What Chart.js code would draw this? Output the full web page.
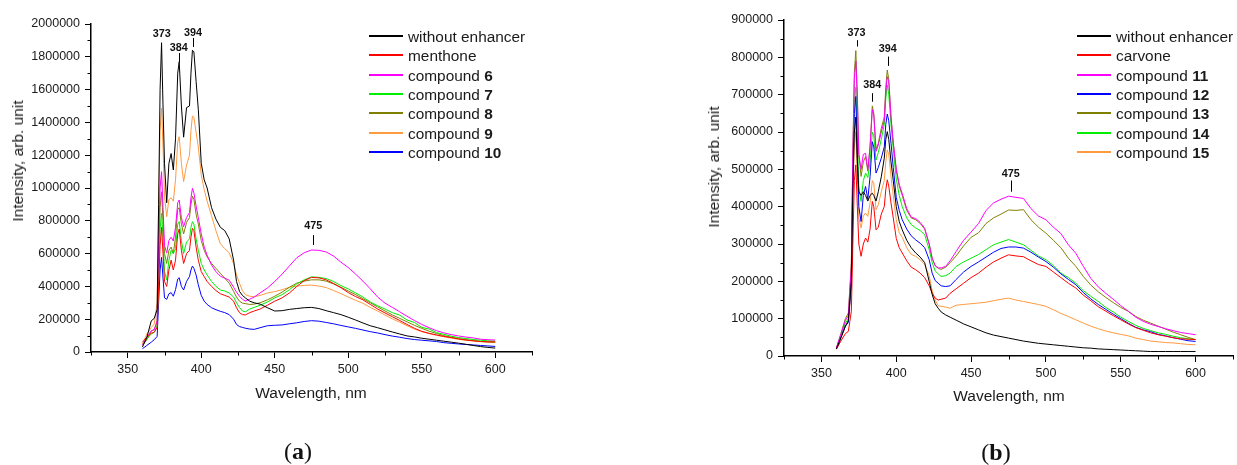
<!DOCTYPE html>
<html><head><meta charset="utf-8">
<script src="https://cdn.jsdelivr.net/npm/chart.js@4.4.0/dist/chart.umd.min.js"></script>
<style>
html,body{margin:0;padding:0;background:#fff;}
body{width:1237px;height:465px;overflow:hidden;position:relative;font-family:"Liberation Sans",Arial,sans-serif;color:#1a1a1a;}
canvas{position:absolute;top:0;}
.ax{position:absolute;font-size:15.5px;white-space:nowrap;transform:translate(-50%,-50%);}
.ay{position:absolute;font-size:15.5px;white-space:nowrap;transform:translate(-50%,-50%) rotate(-90deg);}
.lg{position:absolute;height:19px;line-height:19px;font-size:15.4px;white-space:pre;}
.lg .ln{position:absolute;left:0;top:8px;width:34px;height:2px;}
.lg .tx{position:absolute;left:39px;top:0;white-space:pre;}
.pl{position:absolute;font-family:"Liberation Serif","Times New Roman",serif;font-size:24px;transform:translate(-50%,-50%);white-space:nowrap;color:#111;}
</style></head><body>
<canvas id="ca" width="600" height="420" style="left:0px"></canvas>
<canvas id="cb" width="537" height="420" style="left:700px"></canvas>
<div class="ay" style="left:17.5px;top:161px">Intensity, arb. unit</div>
<div class="ax" style="left:311px;top:393px">Wavelength, nm</div>
<div class="ay" style="left:713.5px;top:167px">Intensity, arb. unit</div>
<div class="ax" style="left:1009px;top:396px">Wavelength, nm</div>
<div class="pl" style="left:298px;top:451px">(<b>a</b>)</div>
<div class="pl" style="left:996px;top:452px">(<b>b</b>)</div>
<div id="legA"></div><div id="legB"></div>
<script>
const WL = [360,363,366,368,370,371,372,373,374,375,
 376.5,378,379.5,381,382.5,384,385,386.5,388,390,
 392,393,394,395,396.5,398,400,402,404,407,
 410,413,416,419,422,424,426,428,430,433,
 436,440,445,450,455,460,465,470,475,480,
 485,490,495,500,505,510,515,520,525,530,
 535,540,545,550,555,560,565,570,575,580,
 585,590,595,600];

// ---- Panel (a) ----
const A_BLACK = [30000,90000,190000,205000,260000,900000,1600000,1886000,1500000,1150000,
 910000,1150000,1210000,1110000,1300000,1700000,1770000,1500000,1310000,1490000,
 1500000,1700000,1840000,1830000,1650000,1480000,1150000,1050000,1000000,880000,
 810000,760000,740000,690000,560000,430000,370000,345000,330000,310000,
 300000,292000,270000,250000,252000,260000,265000,270000,272000,265000,
 252000,240000,228000,212000,195000,177000,160000,148000,135000,122000,
 110000,98000,92000,84000,78000,72000,66000,60000,54000,47000,
 40000,33000,28000,24000];
const A_RED = [60000,90000,115000,120000,150000,400000,650000,760000,600000,430000,
 400000,500000,560000,500000,560000,720000,750000,620000,540000,600000,
 620000,700000,754000,740000,640000,560000,490000,460000,430000,400000,
 375000,355000,345000,335000,310000,270000,240000,228000,226000,240000,
 250000,262000,285000,310000,330000,360000,400000,435000,455000,452000,
 440000,418000,392000,362000,338000,318000,290000,262000,238000,215000,
 192000,168000,145000,126000,114000,104000,95000,88000,80000,73000,
 68000,64000,62000,62000];
const A_MAGENTA = [43000,90000,130000,135000,190000,650000,1000000,1100000,880000,650000,
 603000,680000,700000,677000,760000,910000,927000,820000,764000,820000,
 850000,940000,998000,970000,890000,820000,720000,640000,590000,530000,
 490000,462000,450000,438000,395000,365000,340000,322000,310000,322000,
 335000,360000,390000,430000,475000,525000,575000,605000,622000,620000,
 610000,585000,548000,515000,475000,432000,385000,335000,298000,272000,
 245000,218000,192000,168000,148000,130000,117000,106000,98000,91000,
 86000,78000,75000,73000];
const A_GREEN = [45000,80000,110000,120000,160000,450000,750000,846000,700000,490000,
 440000,560000,620000,600000,630000,780000,795000,680000,600000,670000,
 690000,760000,795000,780000,690000,620000,540000,500000,470000,430000,
 400000,378000,372000,360000,335000,300000,272000,250000,245000,262000,
 272000,285000,305000,330000,350000,380000,415000,440000,458000,455000,
 448000,430000,405000,385000,360000,335000,305000,282000,262000,240000,
 225000,195000,180000,150000,140000,118000,108000,96000,88000,82000,
 76000,72000,68000,66000];
const A_OLIVE = [40000,75000,125000,140000,180000,550000,880000,977000,800000,600000,
 540000,620000,640000,600000,700000,870000,880000,780000,720000,790000,
 820000,900000,950000,930000,840000,780000,680000,620000,580000,540000,
 510000,480000,450000,420000,370000,335000,310000,298000,295000,290000,
 292000,300000,318000,340000,365000,395000,420000,432000,440000,440000,
 432000,415000,395000,372000,350000,325000,300000,275000,250000,226000,
 205000,184000,163000,144000,127000,113000,100000,90000,82000,75000,
 70000,65000,62000,60000];
const A_ORANGE = [50000,110000,150000,170000,300000,900000,1350000,1488000,1250000,950000,
 825000,930000,940000,920000,1050000,1280000,1313000,1150000,1039000,1140000,
 1200000,1350000,1440000,1430000,1340000,1250000,1080000,990000,920000,830000,
 740000,660000,630000,605000,540000,470000,420000,375000,350000,340000,
 337000,345000,360000,368000,380000,395000,402000,406000,408000,402000,
 393000,375000,356000,335000,315000,297000,272000,250000,225000,202000,
 182000,160000,140000,124000,112000,102000,93000,85000,77000,72000,
 68000,63000,60000,58000];
const A_BLUE = [20000,40000,60000,75000,95000,300000,500000,577000,450000,330000,
 321000,355000,362000,340000,380000,445000,453000,400000,378000,430000,
 460000,500000,524000,510000,470000,410000,345000,310000,290000,270000,
 258000,248000,240000,228000,200000,168000,155000,150000,145000,140000,
 138000,148000,160000,163000,165000,172000,178000,186000,191000,188000,
 180000,172000,162000,153000,144000,134000,124000,116000,106000,97000,
 90000,82000,76000,72000,68000,64000,57000,53000,49000,46000,
 43000,40000,37000,34000];

// ---- Panel (b) ----
const B_BLACK = [19000,48000,80000,95000,200000,450000,600000,640000,520000,440000,
 430000,440000,430000,415000,430000,436000,430000,415000,440000,480000,
 530000,580000,601000,580000,520000,470000,400000,360000,338000,310000,
 290000,276000,265000,250000,200000,165000,140000,128000,118000,110000,
 104000,96000,86000,78000,70000,62000,56000,52000,48000,44000,
 40000,37000,34000,32000,30000,28000,26000,24000,22000,21000,
 19000,18000,17000,16000,15000,14000,13000,12000,12000,12000,
 12000,12000,12000,12000];
const B_RED = [18000,40000,60000,66000,120000,300000,470000,512000,400000,300000,
 267000,300000,316000,305000,340000,414000,400000,338000,345000,380000,
 400000,445000,472000,455000,410000,370000,315000,290000,276000,255000,
 238000,231000,222000,210000,188000,168000,155000,150000,152000,155000,
 168000,180000,195000,210000,222000,238000,252000,262000,271000,268000,
 266000,255000,245000,240000,225000,210000,195000,182000,163000,148000,
 132000,120000,108000,97000,86000,76000,69000,62000,57000,53000,
 49000,46000,45000,44000];
const B_MAGENTA = [22000,58000,95000,108000,240000,540000,740000,790000,690000,540000,
 500000,540000,543000,500000,560000,660000,645000,548000,565000,600000,
 630000,705000,748000,735000,640000,572000,500000,460000,435000,395000,
 372000,368000,358000,342000,300000,262000,242000,236000,236000,240000,
 255000,280000,310000,332000,355000,390000,410000,420000,428000,425000,
 422000,395000,375000,365000,345000,328000,298000,275000,240000,208000,
 185000,168000,152000,135000,120000,104000,93000,85000,79000,73000,
 68000,63000,60000,57000];
const B_BLUE = [19000,50000,80000,90000,200000,480000,650000,695000,540000,400000,
 360000,430000,454000,420000,480000,574000,560000,490000,505000,530000,
 560000,620000,648000,630000,570000,505000,425000,390000,365000,340000,
 322000,311000,302000,290000,258000,222000,202000,195000,188000,186000,
 188000,205000,225000,240000,252000,265000,278000,288000,292000,292000,
 289000,278000,265000,253000,238000,220000,205000,191000,170000,153000,
 138000,125000,112000,100000,88000,77000,70000,65000,58000,54000,
 49000,45000,41000,39000];
const B_OLIVE = [21000,60000,100000,115000,250000,550000,760000,818000,700000,540000,
 481000,520000,534000,495000,560000,670000,650000,552000,570000,610000,
 640000,720000,766000,740000,640000,570000,500000,455000,430000,390000,
 370000,365000,355000,340000,300000,262000,242000,235000,232000,238000,
 250000,268000,295000,318000,330000,355000,370000,380000,391000,390000,
 392000,365000,345000,329000,310000,290000,262000,240000,213000,190000,
 172000,157000,143000,130000,120000,106000,96000,88000,80000,72000,
 64000,57000,50000,44000];
const B_GREEN = [20000,55000,88000,100000,220000,500000,680000,720000,600000,450000,
 414000,470000,490000,478000,520000,600000,590000,525000,545000,580000,
 620000,690000,726000,700000,620000,555000,475000,430000,400000,370000,
 352000,343000,336000,325000,285000,250000,228000,220000,213000,215000,
 222000,240000,252000,262000,272000,285000,298000,305000,312000,305000,
 298000,283000,268000,258000,242000,222000,210000,195000,175000,160000,
 146000,130000,118000,104000,93000,82000,74000,68000,62000,58000,
 53000,49000,46000,44000];
const B_ORANGE = [20000,48000,80000,92000,180000,420000,560000,601000,480000,370000,
 343000,375000,383000,374000,410000,470000,463000,392000,405000,440000,
 470000,520000,552000,540000,480000,430000,365000,330000,318000,290000,
 272000,267000,258000,245000,215000,175000,150000,135000,133000,131000,
 128000,136000,138000,140000,142000,144000,148000,152000,155000,150000,
 146000,142000,138000,133000,124000,114000,106000,97000,88000,80000,
 73000,67000,62000,58000,54000,48000,44000,40000,38000,36000,
 35000,33000,31000,30000];

// legend names (plain part + bold part)
const A_NAMES = ['without enhancer','menthone','compound ','compound ','compound ','compound ','compound '];
const A_BOLD  = ['','','6','7','8','9','10'];
const B_NAMES = ['without enhancer','carvone','compound ','compound ','compound ','compound ','compound '];
const B_BOLD  = ['','','11','12','13','14','15'];

// peak annotation labels
const A_PEAK_LABELS = ['373','384','394','475'];
const A_PEAK_AT = [373.2, 384.7, 394.4, 476.2];
const B_PEAK_LABELS = ['373','384','394','475'];
const B_PEAK_AT = [373.5, 384.0, 394.3, 476.5];

// ---- styling / layout (not data) ----
const A_COLORS = ['#000000','#ff0000','#ff00ff','#00ee00','#808000','#ff9a40','#0000ff'];
const B_COLORS = ['#000000','#ff0000','#ff00ff','#0000ff','#808000','#00ee00','#ff9a40'];
const A_SETS = [A_BLACK,A_RED,A_MAGENTA,A_GREEN,A_OLIVE,A_ORANGE,A_BLUE];
const B_SETS = [B_BLACK,B_RED,B_MAGENTA,B_BLUE,B_OLIVE,B_GREEN,B_ORANGE];
const A_PEAK_POS = [{t:1939000,l:null},{t:1852000,l:[1823000,1768000]},{t:1943000,l:[1915000,1860000]},{t:768000,l:[713000,652000]}];
const B_PEAK_POS = [{t:864000,l:[846000,829000]},{t:726000,l:[704000,681000]},{t:822000,l:[802000,777000]},{t:488000,l:[470000,440000]}];

const FONT = '"Liberation Sans", Arial, sans-serif';

const decor = {
  id:'decor',
  afterDraw(chart, args, o){
    const ctx = chart.ctx, xs = chart.scales.x, ys = chart.scales.y;
    ctx.save();
    ctx.strokeStyle = '#000'; ctx.lineWidth = 1;
    xs.ticks.forEach(t => {
      if (t.value % o.xMajor !== 0) {
        const px = Math.round(xs.getPixelForValue(t.value)) + 0.5;
        ctx.beginPath(); ctx.moveTo(px, ys.bottom); ctx.lineTo(px, ys.bottom + 3.5); ctx.stroke();
      }
    });
    ys.ticks.forEach(t => {
      if (t.value % o.yMajor !== 0) {
        const py = Math.round(ys.getPixelForValue(t.value)) + 0.5;
        ctx.beginPath(); ctx.moveTo(xs.left, py); ctx.lineTo(xs.left - 3.5, py); ctx.stroke();
      }
    });
    ctx.fillStyle = '#111';
    ctx.font = 'bold 10.8px ' + FONT;
    ctx.textAlign = 'center'; ctx.textBaseline = 'middle';
    o.labels.forEach((lab, i) => {
      const px = xs.getPixelForValue(o.at[i]);
      const p = o.pos[i];
      ctx.fillText(lab, px, ys.getPixelForValue(p.t));
      if (p.l) {
        const lx = Math.round(px) + 0.5;
        ctx.beginPath(); ctx.moveTo(lx, ys.getPixelForValue(p.l[0])); ctx.lineTo(lx, ys.getPixelForValue(p.l[1])); ctx.stroke();
      }
    });
    ctx.restore();
  }
};

function makeChart(id, sets, colors, yMax, yStep, yMajor, yWidth, xHeight, pad, labels, at, pos){
  return new Chart(document.getElementById(id), {
    type:'line',
    data:{datasets: sets.map((v,i)=>({
      data: WL.map((x,j)=>({x:x, y:v[j]})),
      borderColor: colors[i], borderWidth:1, pointRadius:0, fill:false, tension:0
    }))},
    options:{
      responsive:false, animation:false, devicePixelRatio:1,
      layout:{padding:pad},
      plugins:{legend:{display:false}, tooltip:{enabled:false},
        decor:{xMajor:50, yMajor:yMajor, labels:labels, at:at, pos:pos}},
      scales:{
        x:{type:'linear', min:325, max:625,
          afterFit:s=>{s.height = xHeight;},
          ticks:{stepSize:25, autoSkip:false, maxRotation:0, minRotation:0, padding:4, color:'#1a1a1a',
            font:{family:FONT, size:12.5}, callback:v => (v % 50 === 0 ? String(v) : '')},
          grid:{drawOnChartArea:false, tickLength:6, tickWidth:1,
            tickColor:c => (c.tick && c.tick.value % 50 === 0) ? '#000' : 'rgba(0,0,0,0)'},
          border:{color:'#000', width:1.5}},
        y:{type:'linear', min:0, max:yMax,
          afterFit:s=>{s.width = yWidth;},
          ticks:{stepSize:yStep, autoSkip:false, padding:5, color:'#1a1a1a',
            font:{family:FONT, size:12.5}, callback:v => (v % yMajor === 0 ? String(v) : '')},
          grid:{drawOnChartArea:false, tickLength:6, tickWidth:1,
            tickColor:c => (c.tick && c.tick.value % yMajor === 0) ? '#000' : 'rgba(0,0,0,0)'},
          border:{color:'#000', width:1.5}}
      }
    },
    plugins:[decor]
  });
}

makeChart('ca', A_SETS, A_COLORS, 2000000, 100000, 200000, 91, 68, {left:0,right:68,top:24,bottom:0}, A_PEAK_LABELS, A_PEAK_AT, A_PEAK_POS);
makeChart('cb', B_SETS, B_COLORS, 900000, 50000, 100000, 84, 64, {left:0,right:3,top:20,bottom:0}, B_PEAK_LABELS, B_PEAK_AT, B_PEAK_POS);

function legend(el, names, bold, colors, left, top){
  const root = document.getElementById(el);
  names.forEach((n,i)=>{
    const row = document.createElement('div');
    row.className = 'lg';
    row.style.left = left + 'px';
    row.style.top = Math.round(top + i*19.3) + 'px';
    const ln = document.createElement('div'); ln.className='ln'; ln.style.background = colors[i];
    row.appendChild(ln);
    const tx = document.createElement('span'); tx.className = 'tx';
    tx.appendChild(document.createTextNode(n));
    if (bold[i]) { const b = document.createElement('b'); b.textContent = bold[i]; tx.appendChild(b); }
    row.appendChild(tx);
    root.appendChild(row);
  });
}
legend('legA', A_NAMES, A_BOLD, A_COLORS, 369, 27);
legend('legB', B_NAMES, B_BOLD, B_COLORS, 1077, 27);
</script>
</body></html>
